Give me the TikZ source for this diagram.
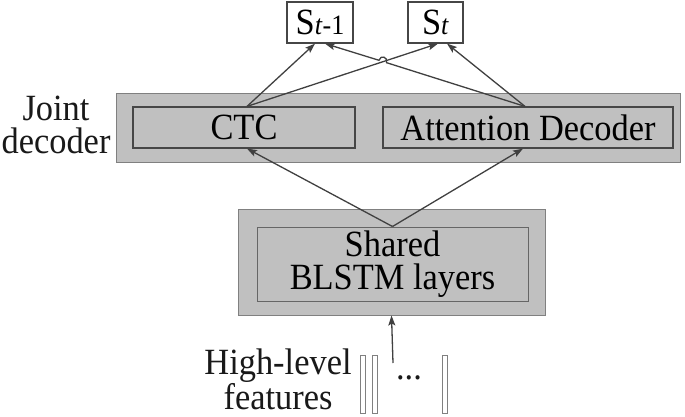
\documentclass[tikz,border=0pt]{standalone}
\usepackage{fontspec}
\setmainfont[FakeStretch=0.93]{Liberation Serif}
\usetikzlibrary{arrows.meta}
\definecolor{boxgray}{RGB}{192,192,192}
\definecolor{outeredge}{RGB}{128,128,128}
\definecolor{inneredge}{RGB}{70,70,70}
\definecolor{linegray}{RGB}{64,64,64}
\begin{document}
\begin{tikzpicture}[x=1pt,y=-1pt,
  txt/.style={font=\fontsize{37}{32.5}\selectfont, text=black!90, align=center, inner sep=0pt},
  outerbox/.style={draw=outeredge, fill=boxgray, line width=1pt, inner sep=0pt},
  innerbox/.style={draw=inneredge, fill=boxgray, line width=1.2pt, inner sep=0pt, font=\fontsize{37}{32.5}\selectfont, align=center},
  sbox/.style={draw=inneredge, fill=white, line width=1.2pt, inner sep=0pt, font=\fontsize{37}{32.5}\selectfont},
  featbar/.style={draw=outeredge, fill=white, line width=0.9pt, inner sep=0pt, minimum width=5pt, minimum height=58pt},
  conn/.style={draw=linegray, line width=1.3pt, -{Stealth[length=10pt,width=7pt,inset=2pt]}}
]
\useasboundingbox (0,0) rectangle (685,417);

% joint decoder
\node[outerbox, minimum width=564pt, minimum height=68pt] (jd) at (398,128) {};
\node[innerbox, minimum width=222pt, minimum height=41pt] (ctc) at (244,127.5) {CTC};
\node[innerbox, minimum width=290pt, minimum height=41pt] (att) at (528,127.5) {Attention Decoder};
\node[txt] (jdlabel) at (56,125) {Joint\\decoder};

% output symbols
\node[sbox, minimum width=66pt, minimum height=41pt] (s1) at (320,22.5) {S{\fontsize{28}{28}\selectfont\textit{t}-1}};
\node[sbox, minimum width=55pt, minimum height=41pt] (s2) at (435.5,22.5) {S{\fontsize{28}{28}\selectfont\textit{t}}};

% shared encoder
\node[outerbox, minimum width=307pt, minimum height=106pt] (enc) at (391.5,262) {};
\node[innerbox, draw=outeredge!80!black, line width=1pt, minimum width=271pt, minimum height=74pt] (blstm) at (392.5,264) {Shared\\BLSTM layers};

% features
\node[featbar] (f1) at (362.5,384) {};
\node[featbar] (f2) at (374.5,384) {};
\node[featbar] (f3) at (444.5,384) {};
\node[txt] (dots) at (409,378) {...};
\node[txt, font=\fontsize{37}{34}\selectfont] (hl) at (278,379) {High-level\\features};
\coordinate (ftail) at (393,363);

% connectors
\draw[conn] (ftail) -- (enc.south);
\draw[conn] (blstm.north) -- ([xshift=3pt]ctc.south);
\draw[conn] (blstm.north) -- ([xshift=-5pt]att.south);
\draw[conn] ([xshift=3pt]ctc.north) -- ([xshift=-5pt]s1.south);
\draw[conn] ([xshift=3pt]ctc.north) -- ([xshift=2.5pt]s2.south);
\draw[conn] ([xshift=-3pt]att.north) -- ([xshift=11.5pt]s2.south);
\coordinate (hopa) at (386.6,62.7);
\coordinate (hopb) at (379.0,60.3);
\draw[conn] ([xshift=-3pt]att.north) -- (hopa) .. controls (388.1,56.9) and (380.5,54.5) .. (hopb) -- ([xshift=5pt]s1.south);
\end{tikzpicture}
\end{document}
